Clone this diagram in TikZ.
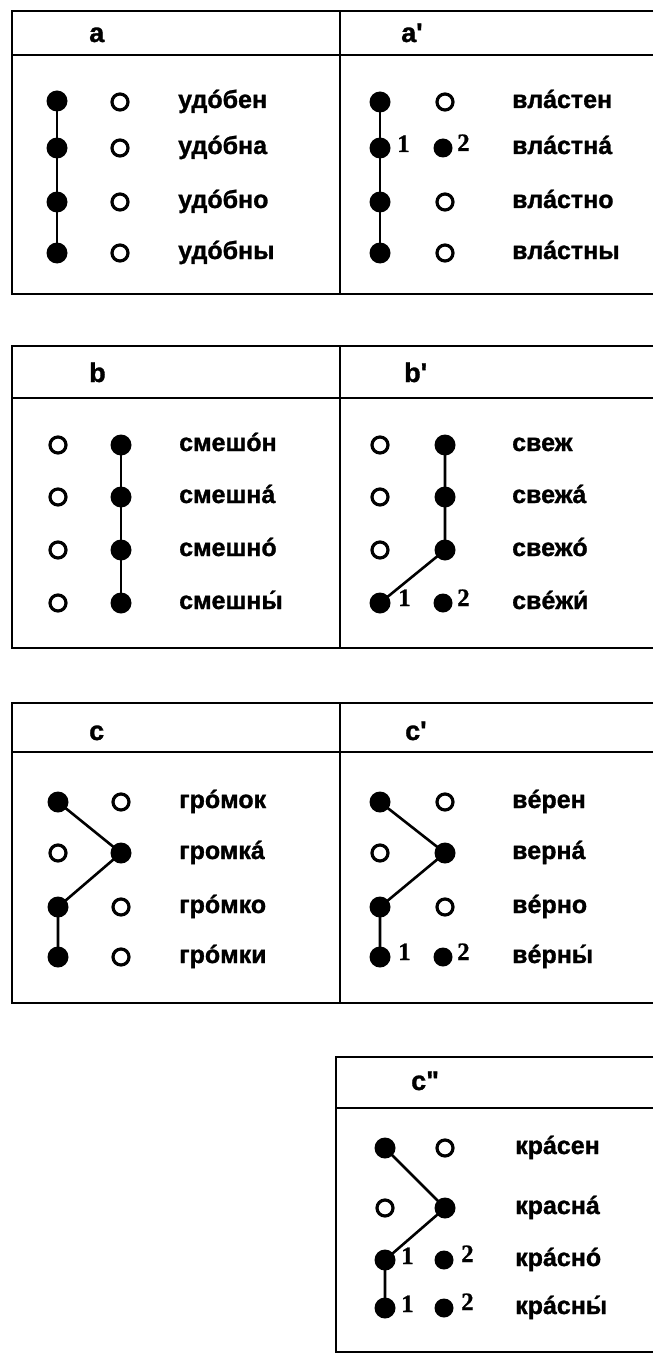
\documentclass[tikz,border=0pt]{standalone}
\usepackage{fontspec}
\setmainfont{Liberation Sans}
\newfontfamily\wordfont[FakeBold=1.2]{Liberation Sans Bold}
\newfontfamily\numfont[FakeBold=0.8]{Liberation Serif Bold}
\begin{document}
\begin{tikzpicture}[x=1pt,y=-1pt,
  frame/.style={line width=2.6pt},
  link/.style={line width=2.6pt},
  fdot/.style={circle,fill=black,inner sep=0pt,minimum size=21pt},
  sdot/.style={circle,fill=black,inner sep=0pt,minimum size=19pt},
  odot/.style={circle,draw=black,fill=white,line width=3.2pt,inner sep=0pt,minimum size=16pt},
  word/.style={anchor=base west,inner sep=0pt,yshift=-6pt,font=\wordfont\fontsize{25}{25}\selectfont},
  num/.style={anchor=base west,inner sep=0pt,yshift=-6pt,font=\numfont\fontsize{25}{25}\selectfont},
  lab/.style={anchor=base west,inner sep=0pt,font=\wordfont\fontsize{27}{27}\selectfont}]
\path[fill=white,use as bounding box] (0,0) rectangle (653,1356);

% ---------- frames ----------
\draw[frame] (653,11) -- (12,11) -- (12,294) -- (653,294);
\draw[frame] (12,55) -- (653,55);
\draw[frame] (340,11) -- (340,294);

\draw[frame] (653,346) -- (12,346) -- (12,648) -- (653,648);
\draw[frame] (12,398) -- (653,398);
\draw[frame] (340,346) -- (340,648);

\draw[frame] (653,703) -- (12,703) -- (12,1003) -- (653,1003);
\draw[frame] (12,752) -- (653,752);
\draw[frame] (340,703) -- (340,1003);

\draw[frame] (653,1057) -- (336,1057) -- (336,1352) -- (653,1352);
\draw[frame] (336,1108) -- (653,1108);

% ---------- labels ----------
\node[lab] (la) at (89,42) {a};
\node[lab] (lap) at (401,42) {a'};
\node[lab] (lb) at (89,382) {b};
\node[lab] (lbp) at (404,382) {b'};
\node[lab] (lc) at (89,740) {c};
\node[lab] (lcp) at (405,740) {c'};
\node[lab] (lcpp) at (411,1090) {c"};

% ---------- panel a ----------
\node[fdot] (a1) at (57,101) {};
\node[fdot] (a2) at (57,148) {};
\node[fdot] (a3) at (57,202) {};
\node[fdot] (a4) at (57,253) {};
\node[odot] (ao1) at (120,102) {};
\node[odot] (ao2) at (120,148) {};
\node[odot] (ao3) at (120,202) {};
\node[odot] (ao4) at (120,253) {};
\node[word] (aw1) at (178,102) {удóбен};
\node[word] (aw2) at (178,148) {удóбна};
\node[word] (aw3) at (178,202) {удóбно};
\node[word] (aw4) at (178,253) {удóбны};
\draw[link] (a1.center) -- (a2.center) -- (a3.center) -- (a4.center);

% ---------- panel a' ----------
\node[fdot] (ap1) at (380,102) {};
\node[fdot] (ap2) at (380,148) {};
\node[fdot] (ap3) at (380,202) {};
\node[fdot] (ap4) at (380,253) {};
\node[odot] (apo1) at (445,102) {};
\node[sdot] (apo2) at (443,148) {};
\node[odot] (apo3) at (445,202) {};
\node[odot] (apo4) at (445,253) {};
\node[num] (apn1) at (397,146) {1};
\node[num] (apn2) at (457,145) {2};
\node[word] (apw1) at (512,102) {влáстен};
\node[word] (apw2) at (512,148) {влáстнá};
\node[word] (apw3) at (512,202) {влáстно};
\node[word] (apw4) at (512,253) {влáстны};
\draw[link] (ap1.center) -- (ap2.center) -- (ap3.center) -- (ap4.center);

% ---------- panel b ----------
\node[odot] (bo1) at (58,445) {};
\node[odot] (bo2) at (58,497) {};
\node[odot] (bo3) at (58,550) {};
\node[odot] (bo4) at (58,603) {};
\node[fdot] (b1) at (121,445) {};
\node[fdot] (b2) at (121,497) {};
\node[fdot] (b3) at (121,550) {};
\node[fdot] (b4) at (121,603) {};
\node[word] (bw1) at (179,445) {смешóн};
\node[word] (bw2) at (179,497) {смешнá};
\node[word] (bw3) at (179,550) {смешнó};
\node[word] (bw4) at (179,603) {смешны́};
\draw[link] (b1.center) -- (b2.center) -- (b3.center) -- (b4.center);

% ---------- panel b' ----------
\node[odot] (bpo1) at (380,445) {};
\node[odot] (bpo2) at (380,497) {};
\node[odot] (bpo3) at (380,550) {};
\node[fdot] (bpl4) at (380,603) {};
\node[fdot] (bp1) at (445,445) {};
\node[fdot] (bp2) at (445,497) {};
\node[fdot] (bp3) at (445,550) {};
\node[sdot] (bp4) at (443,603) {};
\node[num] (bpn1) at (398,600) {1};
\node[num] (bpn2) at (457,600) {2};
\node[word] (bpw1) at (512,445) {свеж};
\node[word] (bpw2) at (512,497) {свежá};
\node[word] (bpw3) at (512,550) {свежó};
\node[word] (bpw4) at (512,603) {свéжи́};
\draw[link] (bp1.center) -- (bp2.center) -- (bp3.center) -- (bpl4.center);

% ---------- panel c ----------
\node[fdot] (c1) at (58,802) {};
\node[odot] (co2) at (58,853) {};
\node[fdot] (c3) at (58,907) {};
\node[fdot] (c4) at (58,957) {};
\node[odot] (co1) at (121,802) {};
\node[fdot] (c2) at (121,853) {};
\node[odot] (co3) at (121,907) {};
\node[odot] (co4) at (121,957) {};
\node[word] (cw1) at (179,802) {грóмок};
\node[word] (cw2) at (179,853) {громкá};
\node[word] (cw3) at (179,907) {грóмко};
\node[word] (cw4) at (179,957) {грóмки};
\draw[link] (c1.center) -- (c2.center) -- (c3.center) -- (c4.center);

% ---------- panel c' ----------
\node[fdot] (cp1) at (380,802) {};
\node[odot] (cpo2) at (380,853) {};
\node[fdot] (cp3) at (380,907) {};
\node[fdot] (cp4) at (380,957) {};
\node[odot] (cpo1) at (445,802) {};
\node[fdot] (cp2) at (445,853) {};
\node[odot] (cpo3) at (445,907) {};
\node[sdot] (cpr4) at (443,957) {};
\node[num] (cpn1) at (398,954) {1};
\node[num] (cpn2) at (457,954) {2};
\node[word] (cpw1) at (512,802) {вéрен};
\node[word] (cpw2) at (512,853) {вернá};
\node[word] (cpw3) at (512,907) {вéрно};
\node[word] (cpw4) at (512,957) {вéрны́};
\draw[link] (cp1.center) -- (cp2.center) -- (cp3.center) -- (cp4.center);

% ---------- panel c'' ----------
\node[fdot] (cq1) at (385,1148) {};
\node[odot] (cqo2) at (385,1208) {};
\node[fdot] (cq3) at (385,1260) {};
\node[fdot] (cq4) at (385,1308) {};
\node[odot] (cqo1) at (445,1148) {};
\node[fdot] (cq2) at (445,1208) {};
\node[sdot] (cqr3) at (444,1260) {};
\node[sdot] (cqr4) at (444,1308) {};
\node[num] (cqn1) at (401,1258) {1};
\node[num] (cqn2) at (461,1256) {2};
\node[num] (cqn3) at (401,1306) {1};
\node[num] (cqn4) at (461,1304) {2};
\node[word] (cqw1) at (515,1148) {крáсен};
\node[word] (cqw2) at (515,1208) {краснá};
\node[word] (cqw3) at (515,1260) {крáснó};
\node[word] (cqw4) at (515,1308) {крáсны́};
\draw[link] (cq1.center) -- (cq2.center) -- (cq3.center) -- (cq4.center);
\end{tikzpicture}
\end{document}
